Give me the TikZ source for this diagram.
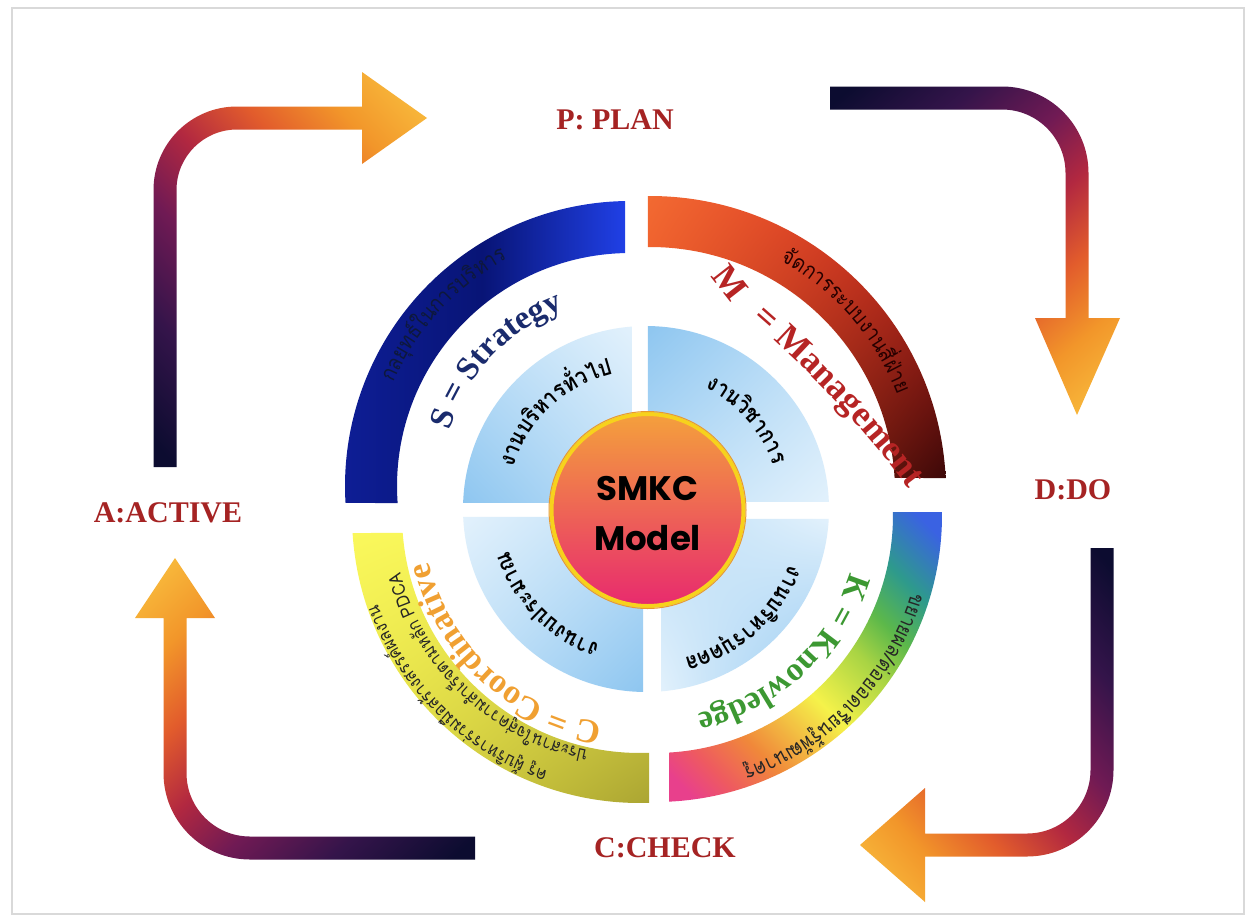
\documentclass[tikz,border=0pt]{standalone}
\usepackage{fontspec}
\usetikzlibrary{decorations.text,shadings}
\newfontfamily\thaiF[Script=Thai,FakeStretch=0.88]{Loma}
\newfontfamily\serifB{Liberation Serif}
\newfontfamily\smkcF{Poppins}

\definecolor{labelc}{RGB}{165,35,35}
\definecolor{ar0}{RGB}{12,12,48}
\definecolor{ar1}{RGB}{52,20,74}
\definecolor{ar2}{RGB}{112,26,84}
\definecolor{ar3}{RGB}{178,40,64}
\definecolor{ar4}{RGB}{226,92,44}
\definecolor{ar5}{RGB}{242,150,42}
\definecolor{ar6}{RGB}{248,186,60}
\pgfdeclarehorizontalshading{arrowsh}{100bp}{color(0bp)=(ar0); color(17bp)=(ar0); color(30bp)=(ar1); color(42bp)=(ar2); color(52bp)=(ar3); color(62bp)=(ar4); color(72bp)=(ar5); color(82bp)=(ar6); color(100bp)=(ar6)}
\definecolor{rb0}{RGB}{232,64,140}
\definecolor{rb1}{RGB}{238,90,96}
\definecolor{rb2}{RGB}{240,136,58}
\definecolor{rb3}{RGB}{245,242,74}
\definecolor{rb4}{RGB}{168,212,68}
\definecolor{rb5}{RGB}{92,184,74}
\definecolor{rb6}{RGB}{46,154,140}
\definecolor{rb7}{RGB}{58,98,226}
\pgfdeclarehorizontalshading{rainbowsh}{100bp}{color(0bp)=(rb0); color(18bp)=(rb0); color(24bp)=(rb1); color(32bp)=(rb2); color(46bp)=(rb3); color(57bp)=(rb4); color(64bp)=(rb5); color(72bp)=(rb6); color(82bp)=(rb7); color(100bp)=(rb7)}
\definecolor{tla}{RGB}{14,30,150}
\definecolor{tlb}{RGB}{8,20,118}
\definecolor{tlc}{RGB}{32,64,230}
\definecolor{tra}{RGB}{242,106,50}
\definecolor{trb}{RGB}{216,40,30}
\definecolor{trc}{RGB}{232,68,31}
\definecolor{trd}{RGB}{60,8,8}
\definecolor{bla}{RGB}{250,248,92}
\definecolor{blb}{RGB}{244,240,80}
\definecolor{blc}{RGB}{228,223,66}
\definecolor{bld}{RGB}{170,164,50}
\definecolor{qL}{RGB}{226,241,252}
\definecolor{qS}{RGB}{142,198,240}
\definecolor{qM}{RGB}{190,223,247}
\definecolor{ccA}{RGB}{244,160,60}
\definecolor{ccB}{RGB}{232,42,110}
\definecolor{ccY}{RGB}{247,210,28}
\definecolor{ccO}{RGB}{232,154,48}
\definecolor{stc}{RGB}{26,43,109}
\definecolor{mgc}{RGB}{182,36,36}
\definecolor{knc}{RGB}{60,152,50}
\definecolor{coc}{RGB}{240,160,50}

\newcommand{\arctext}[6]{%
  \path[decorate, decoration={text along path, text={|#5|#6}, text align=center}]
    ([shift={(#1,-#2)}]{#4+70}:#3pt) arc[start angle={#4+70}, end angle={#4-70}, radius=#3pt];}

\tikzset{
  lab/.style={font=\serifB\bfseries\fontsize{30}{30}\selectfont, text=labelc, inner sep=0pt},
}

\begin{document}
\begin{tikzpicture}[x=1pt,y=1pt]
\useasboundingbox (0,0) rectangle (1249,-918);
\fill[white] (0,0) rectangle (1249,-918);
\draw[black!15, line width=1.2pt] (12,-8) rectangle (1244,-914);

% arrows
\shade[shading=arrowsh, shading angle=43] (153.5,-467) -- (153.5,-190) arc[start angle=180, end angle=90, radius=83.5pt] -- (362,-106.5) -- (362,-72) -- (427,-118) -- (362,-164) -- (362,-129.5) -- (237,-129.5) arc[start angle=90, end angle=180, radius=60.5pt] -- (176.5,-467) -- cycle;
\shade[shading=arrowsh, shading angle=-49] (830,-86.5) -- (1002,-86.5) arc[start angle=90, end angle=0, radius=86.5pt] -- (1088.5,-318) -- (1120,-318) -- (1077,-415) -- (1035,-318) -- (1065.5,-318) -- (1065.5,-173) arc[start angle=0, end angle=90, radius=63.5pt] -- (830,-109.5) -- cycle;
\shade[shading=arrowsh, shading angle=221] (1113.5,-548) -- (1113.5,-770) arc[start angle=0, end angle=-90, radius=86.5pt] -- (925,-856.5) -- (925,-902) -- (860,-845) -- (925,-788) -- (925,-833.5) -- (1027,-833.5) arc[start angle=-90, end angle=0, radius=63.5pt] -- (1090.5,-548) -- cycle;
\shade[shading=arrowsh, shading angle=133] (475,-836.5) -- (250,-836.5) arc[start angle=-90, end angle=-180, radius=63.5pt] -- (186.5,-618) -- (215,-618) -- (175,-558) -- (135,-618) -- (163.5,-618) -- (163.5,-773) arc[start angle=180, end angle=270, radius=86.5pt] -- (475,-859.5) -- cycle;

% labels
\node[lab] (P) at (615,-120) {P: PLAN};
\node[lab] (D) at (1073,-490) {D:DO};
\node[lab] (C) at (665,-848) {C:CHECK};
\node[lab] (A) at (168,-513) {A:ACTIVE};

% outer bands
\shade[left color=tla, right color=tlc, middle color=tlb] ([shift={(630,-486)}]183.4:285pt) arc[start angle=183.4, end angle=91.0, radius=285pt] -- ([shift={(630,-486)}]91.2:233pt) arc[start angle=91.2, end angle=184.2, radius=233pt] -- cycle;
\shade[upper left=tra, upper right=trb, lower left=trc, lower right=trd] ([shift={(650,-492)}]90.4:296pt) arc[start angle=90.4, end angle=2.7, radius=296pt] -- ([shift={(650,-492)}]3.3:245pt) arc[start angle=3.3, end angle=90.5, radius=245pt] -- cycle;
\shade[shading=rainbowsh, shading angle=45] ([shift={(655,-515)}]0.6:287pt) arc[start angle=0.6, end angle=-87.2, radius=287pt] -- ([shift={(655,-515)}]-86.6:238pt) arc[start angle=-86.6, end angle=0.7, radius=238pt] -- cycle;
\shade[upper left=bla, upper right=blb, lower left=blc, lower right=bld] ([shift={(640,-515)}]183.6:288pt) arc[start angle=183.6, end angle=271.8, radius=288pt] -- ([shift={(640,-515)}]272.2:238pt) arc[start angle=272.2, end angle=184.3, radius=238pt] -- cycle;

% inner quadrants
\shade[upper left=qM, upper right=qL, lower left=qS, lower right=qM] (632,-503) -- ([shift={(646,-509)}]178.1:183pt) arc[start angle=178.1, end angle=94.4, radius=183pt] -- cycle;
\shade[upper left=qS, upper right=qM, lower left=qM, lower right=qL] (648,-502) -- ([shift={(646,-509)}]89.4:183pt) arc[start angle=89.4, end angle=2.2, radius=183pt] -- cycle;
\shade[upper left=qM, upper right=qL, lower left=qL, lower right=qS] (661,-519) -- ([shift={(646,-509)}]-3.1:183pt) arc[start angle=-3.1, end angle=-85.3, radius=183pt] -- cycle;
\shade[upper left=qL, upper right=qM, lower left=qM, lower right=qS] (643,-517) -- ([shift={(646,-509)}]182.5:183pt) arc[start angle=182.5, end angle=269.1, radius=183pt] -- cycle;

% centre
\shadedraw[top color=ccA, bottom color=ccB, draw=ccY, line width=4pt] (647.5,-510) circle[radius=96pt];
\draw[ccO, line width=1pt] (647.5,-510) circle[radius=98.5pt];
\node[font=\smkcF\bfseries\fontsize{34}{50}\selectfont, align=center, inner sep=0pt] (core) at (647.5,-514) {SMKC\\Model};

% texts on arcs
\arctext{630}{486}{258}{137.3}{\thaiF\fontsize{22}{22}\selectfont\color{stc!55!black}}{กล{ยุ}ท{ธ์}ในการบ{ริ}หาร}
\arctext{630}{486}{189}{136.8}{\serifB\bfseries\fontsize{33}{33}\selectfont\color{stc}}{S = Strategy}
\arctext{646}{509}{139}{133.3}{\thaiF\bfseries\fontsize{23}{23}\selectfont\color{black}}{งานบ{ริ}หาร{ทั่}วไป}

\arctext{650}{492}{266}{41}{\thaiF\fontsize{22}{22}\selectfont\color{black!85!red}}{{จั}ดการระบบงาน{สี่}{ฝ่}าย}
\node[font=\serifB\bfseries\fontsize{36}{36}\selectfont, text=mgc, rotate=-52, inner sep=0pt] (mM) at (730,-283) {M};
\path[decorate, decoration={text along path, text={|\serifB\bfseries\fontsize{36}{36}\selectfont\color{mgc}|= Management}, text align=center}]
  (728,-300.5) .. controls (803.8,-362.4) and (870.2,-433.3) .. (927,-513);
\arctext{646}{509}{135}{41.4}{\thaiF\bfseries\fontsize{23}{23}\selectfont\color{black}}{งาน{วิ}ชาการ}

\arctext{655}{515}{268}{-43.8}{\thaiF\fontsize{21}{21}\selectfont\color{black!85}}{ขยายผล/{ต่}อยอดเ{รี}ยน{รู้}{พั}ฒนาค{รู}}
\arctext{655}{515}{203}{-47.2}{\serifB\bfseries\fontsize{33}{33}\selectfont\color{knc}}{K = Knowledge}
\arctext{646}{509}{154}{-48.3}{\thaiF\bfseries\fontsize{23}{23}\selectfont\color{black}}{งานบ{ริ}หาร{บุ}คคล}

\arctext{637}{512}{214}{-132.9}{\serifB\bfseries\fontsize{34}{34}\selectfont\color{coc}}{C = Coordinative}
\arctext{637}{510}{245}{-133.3}{\thaiF\fontsize{18}{18}\selectfont\color{black!85}}{ประสานใจ{สู่}ความ{สำ}เ{ร็}จตามห{ลั}ก PDCA}
\arctext{637}{510}{276}{-134.4}{\thaiF\fontsize{18}{18}\selectfont\color{black!85}}{ค{รู} {ผู้}บ{ริ}หาร{ร่}วม{มื}อส{ร้}างสรร{ค์}ผลงาน}
\arctext{646}{509}{143}{-135.9}{\thaiF\bfseries\fontsize{23}{23}\selectfont\color{black}}{งานงบประมาณ}
\end{tikzpicture}
\end{document}
